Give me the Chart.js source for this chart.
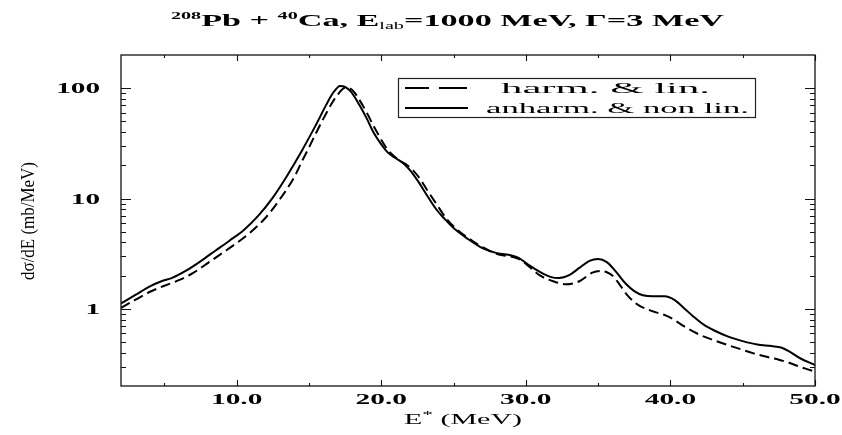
<!DOCTYPE html>
<html>
<head>
<meta charset="utf-8">
<script src="https://cdn.jsdelivr.net/npm/chart.js@4.4.0/dist/chart.umd.min.js"></script>
<style>
  html, body { margin: 0; padding: 0; background: #fff; }
  #wrap { width: 842px; height: 435px; position: relative; }
</style>
</head>
<body>
<div id="wrap"><canvas id="chart"></canvas></div>
<script>
'use strict';

// ── DATA ─────────────────────────────────────────────────────────────────────
// harm. & lin. (dashed)
const energyHarm = [2, 3, 4, 5, 6, 7, 8, 9, 10, 11, 12, 13, 14, 14.5, 15, 15.5, 16, 16.5, 17,
  17.5, 17.8, 18.1, 18.5, 19, 19.45, 19.9, 20.3, 20.7, 21.3, 21.8, 22.2, 22.7, 23.2, 23.8, 24.5,
  25.2, 26, 26.8, 27.5, 28.2, 29.1, 29.7, 30.3, 31, 31.9, 32.8, 33.7, 34.6, 35.2, 35.6, 36,
  36.5, 37, 37.5, 37.9, 38.5, 39, 39.7, 40.3, 40.9, 42, 43, 43.9, 45, 45.7, 46.5, 47.5, 48.2,
  48.9, 49.5, 50];
const sigmaHarm = [1.02, 1.21, 1.43, 1.62, 1.82, 2.12, 2.6, 3.2, 3.95, 5.0, 6.7, 9.9, 15.8, 21.5,
  29, 39.5, 53, 70, 88, 101, 100, 93, 78, 60, 46, 36, 29.5, 25.5, 22, 20, 18, 15, 11.8, 9, 6.6,
  5.3, 4.4, 3.75, 3.36, 3.1, 2.95, 2.75, 2.37, 2.0, 1.78, 1.67, 1.78, 2.13, 2.21, 2.15, 2.0,
  1.65, 1.34, 1.15, 1.06, 0.98, 0.93, 0.87, 0.79, 0.7, 0.585, 0.52, 0.473, 0.425, 0.397, 0.372,
  0.346, 0.325, 0.30, 0.283, 0.27];

// anharm. & non lin. (solid)
const energyAnh = [2, 3, 4, 4.8, 5.5, 6.5, 7.5, 8.5, 9.5, 10.5, 11.5, 12.5, 13.5, 14.5, 15.5,
  16.2, 16.7, 17.15, 17.5, 17.9, 18.5, 19, 19.5, 20, 20.5, 21, 21.5, 22, 22.6, 23.2, 23.8, 24.4,
  25, 26, 27, 28, 29, 29.5, 30.2, 31, 31.7, 32.3, 33, 33.7, 34.4, 35, 35.6, 36.2, 36.9, 37.5,
  38.1, 38.8, 39.6, 40.3, 41, 41.6, 42.3, 43, 44, 45, 46, 47, 47.7, 48.3, 49, 50];
const sigmaAnh = [1.12, 1.34, 1.6, 1.78, 1.9, 2.22, 2.7, 3.35, 4.15, 5.2, 7.0, 10.2, 16.2, 27,
  47, 71, 92, 105, 103, 93, 70, 53, 39, 31, 25.8, 23.2, 21, 18, 14, 10.5, 8, 6.5, 5.4, 4.3,
  3.55, 3.2, 3.05, 2.9, 2.5, 2.15, 1.95, 1.9, 2.02, 2.35, 2.72, 2.83, 2.65, 2.2, 1.7, 1.45,
  1.33, 1.3, 1.3, 1.2, 1.0, 0.85, 0.72, 0.64, 0.56, 0.51, 0.475, 0.46, 0.445, 0.405, 0.355, 0.31];

const seriesNames = ['harm. & lin.', 'anharm. & non lin.'];

// axis ticks and labels
const xMajorTicks = [10, 20, 30, 40, 50];
const xTickLabels = ['10.0', '20.0', '30.0', '40.0', '50.0'];
const xMinorTicks = [5, 15, 25, 35, 45];
const yMajorTicks = [1, 10, 100];
const yTickLabels = ['1', '10', '100'];
const yMinorTicks = [0.3, 0.4, 0.5, 0.6, 0.7, 0.8, 0.9, 2, 3, 4, 5, 6, 7, 8, 9,
  20, 30, 40, 50, 60, 70, 80, 90];

const SERIF = '"Liberation Serif", "Times New Roman", serif';

// ── TEXT HELPERS ─────────────────────────────────────────────────────────────
// The original figure is stretched sideways, so text is drawn with a horizontal scale
function drawStretched(ctx, text, x, y, sx, align) {
  ctx.save();
  ctx.translate(x, y);
  ctx.scale(sx, 1);
  ctx.textAlign = align || 'left';
  ctx.fillText(text, 0, 0);
  ctx.restore();
}

// draw a run of segments (normal / sup / sub) fitted to a target width
function drawRichFitted(ctx, parts, x0, baseline, targetW) {
  let natural = 0;
  parts.forEach(p => { ctx.font = p.font; p.w = ctx.measureText(p.t).width; natural += p.w; });
  const sx = targetW / natural;
  let x = x0;
  ctx.textAlign = 'left';
  parts.forEach(p => {
    ctx.save();
    ctx.font = p.font;
    ctx.translate(x, baseline + (p.dy || 0));
    ctx.scale(sx, 1);
    ctx.fillText(p.t, 0, 0);
    ctx.restore();
    x += p.w * sx;
  });
}

// ── FRAME, TICKS, TEXT ───────────────────────────────────────────────────────
const decorPlugin = {
  id: 'decor',
  afterDraw(chart) {
    const ctx = chart.ctx;
    const a = chart.chartArea;
    const xs = chart.scales.x;
    const ys = chart.scales.y;
    ctx.save();
    ctx.strokeStyle = '#111';
    ctx.fillStyle = '#000';

    // frame
    ctx.lineWidth = 1.3;
    ctx.strokeRect(a.left, a.top, a.right - a.left, a.bottom - a.top);

    // inward ticks on all four sides
    ctx.lineWidth = 1.1;
    ctx.beginPath();
    const xt = (v, len) => {
      const px = Math.round(xs.getPixelForValue(v)) + 0.5;
      ctx.moveTo(px, a.bottom); ctx.lineTo(px, a.bottom - len);
      ctx.moveTo(px, a.top); ctx.lineTo(px, a.top + len);
    };
    const yt = (v, len) => {
      const py = Math.round(ys.getPixelForValue(v)) + 0.5;
      ctx.moveTo(a.left, py); ctx.lineTo(a.left + len, py);
      ctx.moveTo(a.right, py); ctx.lineTo(a.right - len, py);
    };
    xMajorTicks.forEach(v => xt(v, 6));
    xMinorTicks.forEach(v => xt(v, 3));
    yMajorTicks.forEach(v => yt(v, 10));
    yMinorTicks.forEach(v => yt(v, 5));
    ctx.stroke();

    // tick labels
    ctx.font = 'bold 14px ' + SERIF;
    ctx.textBaseline = 'alphabetic';
    xMajorTicks.forEach((v, i) => {
      drawStretched(ctx, xTickLabels[i], xs.getPixelForValue(v), 403.5, 2.1, 'center');
    });
    ctx.font = 'bold 15px ' + SERIF;
    yMajorTicks.forEach((v, i) => {
      drawStretched(ctx, yTickLabels[i], 100, ys.getPixelForValue(v) + 5, 1.95, 'right');
    });

    // title
    drawRichFitted(ctx, [
      { t: '208', font: 'bold 10px ' + SERIF, dy: -7 },
      { t: 'Pb + ', font: 'bold 17px ' + SERIF },
      { t: '40', font: 'bold 10px ' + SERIF, dy: -7 },
      { t: 'Ca, E', font: 'bold 17px ' + SERIF },
      { t: 'lab', font: '10px ' + SERIF, dy: 3 },
      { t: '=1000 MeV, \u0393=3 MeV', font: 'bold 17px ' + SERIF },
    ], 171, 26, 553);

    // x axis title
    drawRichFitted(ctx, [
      { t: 'E', font: '14px ' + SERIF },
      { t: '*', font: '10px ' + SERIF, dy: -6 },
      { t: ' (MeV)', font: '14px ' + SERIF },
    ], 404, 424, 118);

    // y axis title (rotated)
    ctx.save();
    ctx.font = '17px ' + SERIF;
    const yTitle = 'd\u03c3/dE (mb/MeV)';
    const tw = ctx.measureText(yTitle).width;
    ctx.translate(34, 221);
    ctx.rotate(-Math.PI / 2);
    ctx.scale(118 / tw, 1.1);
    ctx.textAlign = 'center';
    ctx.fillText(yTitle, 0, 0);
    ctx.restore();

    // legend box
    const lb = { l: 398.5, t: 78.5, r: 755.5, b: 117.5 };
    ctx.fillStyle = '#fff';
    ctx.fillRect(lb.l, lb.t, lb.r - lb.l, lb.b - lb.t);
    ctx.lineWidth = 1.2;
    ctx.strokeStyle = '#222';
    ctx.strokeRect(lb.l, lb.t, lb.r - lb.l, lb.b - lb.t);
    ctx.strokeStyle = '#000';
    ctx.lineWidth = 2;
    ctx.beginPath();
    ctx.moveTo(405, 88); ctx.lineTo(429, 88);
    ctx.moveTo(439, 88); ctx.lineTo(467, 88);
    ctx.moveTo(405, 108); ctx.lineTo(468, 108);
    ctx.stroke();
    ctx.fillStyle = '#000';
    drawRichFitted(ctx, [{ t: seriesNames[0], font: '15px ' + SERIF }], 501, 93, 209);
    drawRichFitted(ctx, [{ t: seriesNames[1], font: '15px ' + SERIF }], 486, 113, 263);

    ctx.restore();
  },
};

// ── CHART ────────────────────────────────────────────────────────────────────
const toPoints = (xs, ys) => xs.map((x, i) => ({ x, y: ys[i] }));

new Chart(document.getElementById('chart'), {
  type: 'line',
  data: {
    datasets: [
      {
        label: seriesNames[0],
        data: toPoints(energyHarm, sigmaHarm),
        borderColor: '#000',
        borderWidth: 2,
        borderDash: [10, 5],
        pointRadius: 0,
        cubicInterpolationMode: 'monotone',
        fill: false,
      },
      {
        label: seriesNames[1],
        data: toPoints(energyAnh, sigmaAnh),
        borderColor: '#000',
        borderWidth: 2,
        pointRadius: 0,
        cubicInterpolationMode: 'monotone',
        fill: false,
      },
    ],
  },
  options: {
    responsive: true,
    maintainAspectRatio: false,
    animation: false,
    devicePixelRatio: 1,
    layout: { padding: { left: 121, top: 55, right: 27, bottom: 49 } },
    scales: {
      x: { type: 'linear', min: 2, max: 50, display: false },
      y: { type: 'logarithmic', min: 0.2, max: 200, display: false },
    },
    plugins: {
      legend: { display: false },
      tooltip: { enabled: false },
      title: { display: false },
    },
  },
  plugins: [decorPlugin],
});
</script>
</body>
</html>
